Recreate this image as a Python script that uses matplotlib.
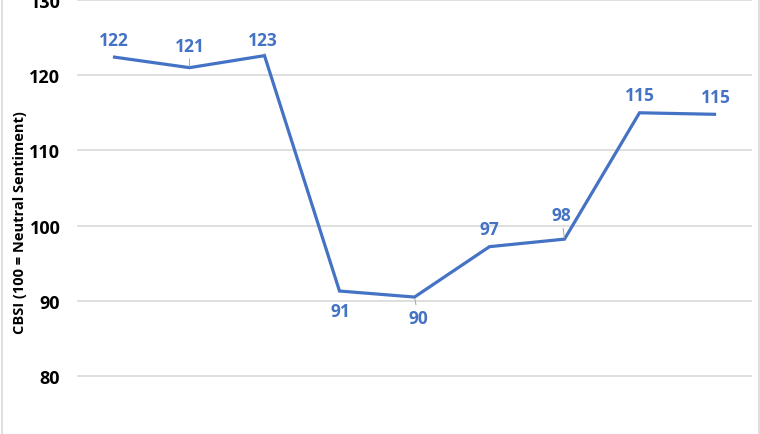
"""CBSI line chart"""
import matplotlib
matplotlib.use("Agg")
import matplotlib.pyplot as plt
from matplotlib.lines import Line2D

# ============== DATA ==============
periods = ['P1', 'P2', 'P3', 'P4', 'P5', 'P6', 'P7', 'P8', 'P9']
cbsi = [122.4, 121.0, 122.6, 91.3, 90.5, 97.2, 98.2, 115.0, 114.8]
point_labels = ['122', '121', '123', '91', '90', '97', '98', '115', '115']
y_ticks = [80, 90, 100, 110, 120, 130]
# ==================================

# label placement (pixels, x right / y up) and which labels have a leader line
label_dx = [-1, 0, -2, 1, 4, 0, -3, 0, 1]
label_dy = [17.5, 22, 15.5, -20, -21, 17.5, 24, 17.5, 17.5]
leader = [False, True, True, False, True, False, True, False, False]

BLUE = '#4472C4'
plt.rcParams['font.family'] = ['Open Sans', 'DejaVu Sans']

fig = plt.figure(figsize=(7.6, 4.35), dpi=100)
ax = fig.add_axes([77 / 760, 0, 675 / 760, 1])

x = list(range(len(periods)))
ax.plot(x, cbsi, color=BLUE, lw=2.3, solid_joinstyle='miter', zorder=3)

for xi, v, lab, dx, dy, ld in zip(x, cbsi, point_labels, label_dx, label_dy, leader):
    arrow = dict(arrowstyle='-', color='#a6a6a6', lw=0.7, shrinkA=1, shrinkB=1) if ld else None
    ax.annotate(lab, (xi, v), xytext=(dx * 0.72, dy * 0.72), textcoords='offset points',
                ha='center', va='center', color=BLUE, fontsize=12.5, fontweight='bold',
                arrowprops=arrow)

ax.set_xlim(-0.5, len(periods) - 0.5)
ax.set_ylim(72.29, 130.13)
ax.set_yticks(y_ticks)
ax.set_yticklabels([str(t) for t in y_ticks], fontsize=13, fontweight='bold')
ax.tick_params(axis='y', length=0, pad=12)
ax.set_xticks([])
ax.grid(axis='y', color='#d9d9d9', lw=1.2)
ax.set_axisbelow(True)
for s in ax.spines.values():
    s.set_visible(False)

fig.text(20 / 760, 1 - 223 / 435, 'CBSI (100 = Neutral Sentiment)', rotation=90,
         ha='center', va='center', fontsize=10.5, fontweight='bold')

# light outer frame
fig.add_artist(Line2D([1.5 / 760, 1.5 / 760], [0, 1], color='#d9d9d9', lw=1.2))
fig.add_artist(Line2D([758.5 / 760, 758.5 / 760], [0, 1], color='#d9d9d9', lw=1.2))

fig.savefig('out.png', dpi=100)
